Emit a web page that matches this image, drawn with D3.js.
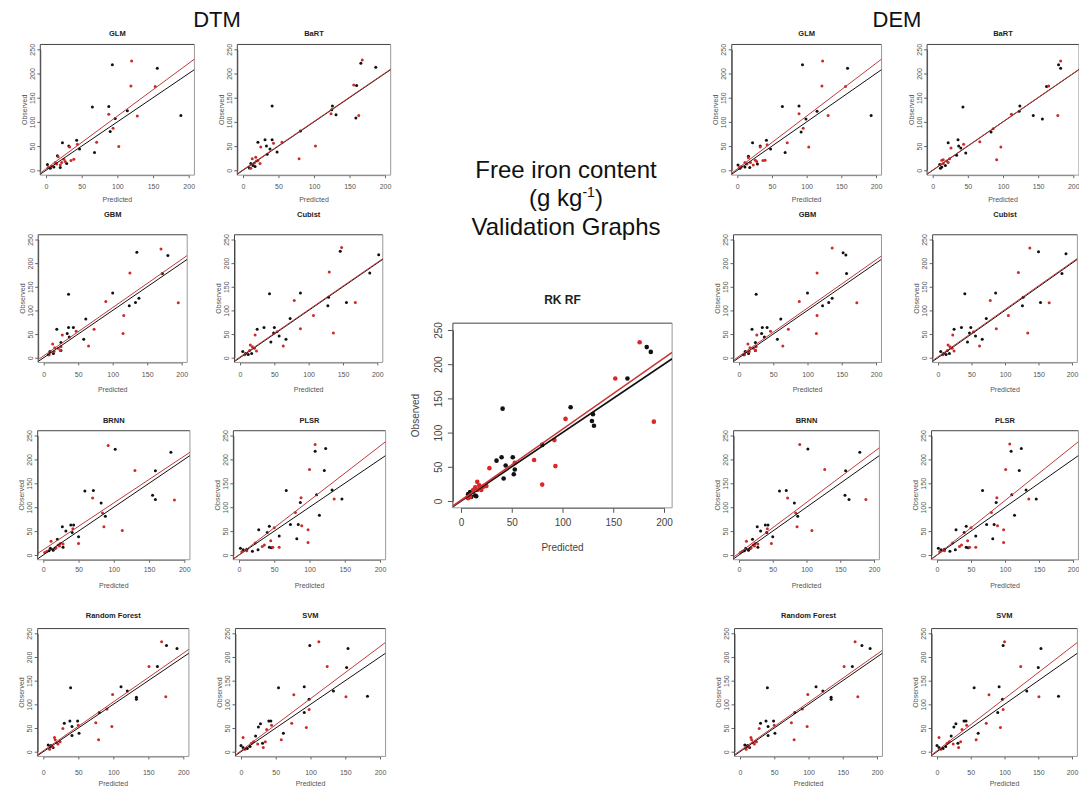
<!DOCTYPE html>
<html>
<head>
<meta charset="utf-8">
<script src="https://cdn.jsdelivr.net/npm/d3@7"></script>
<style>
  body { margin: 0; background: #fff; }
  svg { display: block; font-family: "Liberation Sans", Arial, sans-serif; }
</style>
</head>
<body>
<div id="chart"></div>
<script>
// axis ticks shared by every panel
const xTicks = [0, 50, 100, 150, 200];
const yTicks = [0, 50, 100, 150, 200, 250];
const oneToOne = [0, 1]; // black line: intercept, slope

// ---- RK RF (centre) ----
const rkrfBlack = [[183,225],[187,218],[164,179],[108,137],[130,127],[129,117],[131,110],[80,82],[41,135],[40,64],[51,64],[35,59],[44,52],[53,46],[52,39],[42,33],[9,13],[12,14],[14,8],[10,6],[7,10],[15,7]];
const rkrfRed = [[176,232],[152,179],[103,120],[190,116],[92,89],[93,51],[72,60],[80,24],[53,56],[28,48],[25,22],[16,28],[18,23],[19,20],[20,16],[16,16],[14,20],[7,4],[9,6],[22,21],[12,16]];
const rkrfFit = [1, 1.04];

// ---- DTM ----
const dtmGlmBlack = [[93,218],[156,211],[189,113],[65,131],[88,132],[114,123],[97,107],[90,80],[23,57],[43,62],[32,50],[47,44],[68,37],[16,30],[29,14],[20,6],[2,12],[11,7],[6,4]];
const dtmGlmRed = [[120,226],[119,174],[153,173],[88,116],[128,112],[94,87],[102,49],[71,58],[44,54],[33,48],[39,23],[35,20],[17,28],[25,23],[22,16],[15,13],[8,8],[3,6],[20,11],[27,18],[13,16]];
const dtmGlmFit = [3, 1.09];

const dtmBartBlack = [[166,221],[187,213],[160,175],[41,133],[126,133],[125,125],[131,115],[159,108],[81,81],[21,58],[31,63],[41,63],[33,50],[38,44],[48,38],[34,33],[11,14],[14,10],[9,5],[17,8]];
const dtmBartRed = [[168,228],[156,176],[163,113],[124,117],[102,50],[79,24],[25,48],[55,58],[43,56],[13,24],[18,27],[19,19],[16,15],[21,20],[11,4],[24,14]];
const dtmBartFit = [1, 1.0];

const dtmGbmBlack = [[180,216],[135,223],[172,178],[36,134],[100,137],[124,110],[133,117],[138,126],[61,82],[19,60],[36,64],[43,64],[34,51],[37,44],[58,39],[25,32],[9,13],[14,9],[7,6],[25,15]];
const dtmGbmRed = [[170,230],[125,179],[195,116],[90,119],[116,89],[115,51],[73,60],[47,56],[27,48],[65,25],[13,29],[16,21],[21,20],[25,23],[24,15],[8,6],[15,13]];
const dtmGbmFit = [4, 1.02];

const dtmCubistBlack = [[146,225],[202,218],[189,179],[43,135],[88,137],[129,128],[128,110],[155,117],[73,83],[25,60],[35,64],[50,64],[49,52],[57,46],[67,39],[45,33],[4,13],[8,9],[12,7],[17,9]];
const dtmCubistRed = [[148,233],[130,181],[168,117],[79,121],[107,89],[88,61],[136,52],[54,55],[22,48],[63,25],[15,27],[18,23],[21,20],[24,14],[7,6],[14,15]];
const dtmCubistFit = [1.5, 1.0];

const dtmBrnnBlack = [[102,221],[181,215],[159,176],[59,134],[71,135],[82,109],[88,81],[155,125],[159,116],[27,59],[39,63],[43,63],[32,50],[41,47],[50,38],[20,33],[28,16],[10,14],[14,10],[8,9],[17,14]];
const dtmBrnnRed = [[92,229],[130,177],[186,115],[70,119],[84,88],[86,59],[112,51],[42,55],[11,29],[50,24],[28,23],[21,21],[24,24],[18,15],[5,8],[2,5],[23,19]];
const dtmBrnnFit = [11, 0.98];

const dtmPlsrBlack = [[108,217],[123,223],[121,177],[67,135],[110,126],[132,136],[146,117],[87,110],[114,83],[28,53],[43,60],[40,47],[73,64],[84,64],[57,40],[82,34],[43,16],[46,15],[2,14],[6,11],[11,12],[27,11],[19,8]];
const dtmPlsrRed = [[108,231],[100,179],[135,117],[88,120],[80,89],[89,61],[98,53],[98,26],[57,16],[48,16],[50,57],[45,30],[36,21],[33,18],[23,25],[11,9],[4,7]];
const dtmPlsrFit = [0, 1.14];

const dtmRfBlack = [[176,224],[191,218],[163,180],[39,135],[111,137],[120,128],[133,115],[133,111],[80,83],[30,60],[38,65],[49,65],[41,53],[51,39],[41,34],[7,14],[11,13],[14,9],[10,11]];
const dtmRfRed = [[169,232],[151,180],[175,116],[99,121],[91,90],[98,53],[75,61],[79,25],[28,49],[50,56],[16,30],[17,25],[19,19],[24,21],[21,16],[9,5],[13,11]];
const dtmRfFit = [2, 1.03];

const dtmSvmBlack = [[99,224],[154,218],[152,178],[54,135],[91,137],[133,128],[182,117],[98,111],[91,83],[25,52],[28,59],[40,65],[43,65],[61,39],[31,18],[21,33],[0,13],[13,11],[9,7],[3,9]];
const dtmSvmRed = [[112,232],[124,180],[151,116],[76,120],[98,89],[94,51],[73,60],[58,25],[37,47],[3,30],[15,18],[18,21],[24,16],[35,21],[32,9],[6,5],[44,56]];
const dtmSvmFit = [2, 1.1];

// ---- DEM ----
const demGlmBlack = [[94,218],[159,211],[193,113],[65,132],[89,133],[115,122],[99,106],[92,79],[22,57],[42,62],[33,50],[48,44],[69,37],[16,29],[29,13],[18,6],[1,11],[11,7],[4,4]];
const demGlmRed = [[123,226],[122,174],[156,173],[89,117],[131,113],[95,87],[103,48],[72,57],[43,53],[33,48],[40,21],[37,20],[16,26],[26,21],[19,16],[14,13],[6,8],[3,6],[23,11],[28,18],[11,16]];
const demGlmFit = [3, 1.09];

const demBartBlack = [[179,218],[182,211],[162,173],[43,131],[124,133],[123,122],[143,113],[156,106],[83,79],[22,57],[36,63],[37,50],[40,46],[47,36],[34,31],[10,12],[13,7],[18,10],[11,4]];
const demBartRed = [[182,226],[165,174],[178,113],[112,116],[97,48],[91,22],[86,86],[26,46],[44,54],[67,59],[15,22],[20,19],[15,14],[22,16],[13,21],[24,24]];
const demBartFit = [0.5, 1.0];

const demGbmBlack = [[152,222],[156,217],[157,178],[25,134],[100,137],[122,110],[131,117],[136,126],[61,82],[19,60],[34,64],[41,64],[33,51],[37,44],[56,39],[24,32],[9,13],[14,9],[7,6],[24,15]];
const demGbmRed = [[136,232],[114,179],[172,116],[88,119],[114,89],[113,51],[72,60],[46,56],[26,48],[64,25],[13,29],[16,21],[21,20],[25,23],[24,15],[8,6],[15,13]];
const demGbmFit = [3, 1.02];

const demCubistBlack = [[150,224],[191,220],[185,178],[40,135],[86,137],[127,128],[126,110],[153,117],[72,83],[24,60],[35,64],[49,64],[47,52],[56,46],[66,39],[44,33],[4,13],[8,9],[12,7],[17,9]];
const demCubistRed = [[137,232],[120,180],[166,116],[78,121],[105,89],[87,61],[134,52],[53,55],[22,48],[62,25],[15,27],[18,23],[21,20],[24,14],[7,6],[14,15]];
const demCubistFit = [2, 1.0];

const demBrnnBlack = [[102,222],[179,215],[158,176],[60,134],[70,135],[82,109],[87,81],[157,125],[163,116],[27,59],[39,63],[43,63],[32,50],[41,47],[50,38],[20,33],[28,16],[10,14],[14,10],[8,9],[17,14]];
const demBrnnRed = [[90,231],[127,179],[188,116],[72,119],[84,88],[86,59],[108,51],[42,55],[11,29],[48,24],[28,23],[21,21],[24,24],[18,15],[5,8],[2,5],[23,19]];
const demBrnnFit = [4, 1.06];

const demPlsrBlack = [[109,217],[124,223],[121,177],[67,135],[110,126],[131,136],[146,117],[87,110],[114,83],[28,53],[43,60],[40,47],[73,64],[84,64],[57,40],[82,34],[43,16],[46,15],[2,14],[6,11],[11,12],[27,11],[19,8]];
const demPlsrRed = [[107,232],[101,179],[135,117],[88,120],[80,89],[89,61],[98,53],[98,26],[57,16],[48,16],[50,57],[45,30],[36,21],[33,18],[23,25],[11,9],[4,7]];
const demPlsrFit = [0, 1.14];

const demRfBlack = [[178,224],[190,218],[164,180],[40,135],[111,137],[121,128],[133,115],[133,111],[80,83],[30,60],[38,65],[49,65],[41,53],[51,39],[41,34],[7,14],[11,13],[14,9],[10,11]];
const demRfRed = [[168,232],[152,180],[172,116],[99,121],[91,90],[98,53],[75,61],[79,25],[28,49],[50,56],[16,30],[17,25],[19,19],[24,21],[21,16],[9,5],[13,11]];
const demRfFit = [2, 1.02];

const demSvmBlack = [[98,224],[154,218],[150,178],[55,135],[92,137],[133,128],[180,117],[97,111],[90,83],[25,52],[28,59],[40,65],[43,65],[61,39],[31,18],[21,33],[0,13],[13,11],[9,7],[3,9]];
const demSvmRed = [[100,232],[124,180],[151,116],[77,120],[98,89],[94,51],[73,60],[58,25],[37,47],[3,30],[15,18],[18,21],[24,16],[35,21],[32,9],[6,5],[44,56]];
const demSvmFit = [2, 1.1];

// ---- layout ----
const rows = [
  { title: 33,  ticks: 187, label: 199, y0: 170.3, y250: 49.3 },
  { title: 214, ticks: 375, label: 389, y0: 357.7, y250: 239.5 },
  { title: 420, ticks: 570, label: 585, y0: 555,   y250: 435.5 },
  { title: 615, ticks: 773, label: 783, y0: 751.7, y250: 633.3 }
];

const panels = [
  { title: "GLM",    row: 0, x0: 46,    x200: 188.7,  black: dtmGlmBlack,    red: dtmGlmRed,    fit: dtmGlmFit },
  { title: "BaRT",   row: 0, x0: 243,   x200: 385,    black: dtmBartBlack,   red: dtmBartRed,   fit: dtmBartFit },
  { title: "GBM",    row: 1, x0: 43.7,  x200: 181.7,  black: dtmGbmBlack,    red: dtmGbmRed,    fit: dtmGbmFit },
  { title: "Cubist", row: 1, x0: 240,   x200: 377.3,  black: dtmCubistBlack, red: dtmCubistRed, fit: dtmCubistFit },
  { title: "BRNN",   row: 2, x0: 43.3,  x200: 184.3,  black: dtmBrnnBlack,   red: dtmBrnnRed,   fit: dtmBrnnFit },
  { title: "PLSR",   row: 2, x0: 239,   x200: 380,    black: dtmPlsrBlack,   red: dtmPlsrRed,   fit: dtmPlsrFit },
  { title: "Random Forest", row: 3, x0: 43.3, x200: 183.3, black: dtmRfBlack, red: dtmRfRed,   fit: dtmRfFit },
  { title: "SVM",    row: 3, x0: 241,   x200: 380,    black: dtmSvmBlack,    red: dtmSvmRed,    fit: dtmSvmFit },

  { title: "GLM",    row: 0, x0: 737.3, x200: 876,    black: demGlmBlack,    red: demGlmRed,    fit: demGlmFit },
  { title: "BaRT",   row: 0, x0: 932.7, x200: 1073.3, black: demBartBlack,   red: demBartRed,   fit: demBartFit },
  { title: "GBM",    row: 1, x0: 739,   x200: 876,    black: demGbmBlack,    red: demGbmRed,    fit: demGbmFit },
  { title: "Cubist", row: 1, x0: 938,   x200: 1072,   black: demCubistBlack, red: demCubistRed, fit: demCubistFit },
  { title: "BRNN",   row: 2, x0: 739,   x200: 874,    black: demBrnnBlack,   red: demBrnnRed,   fit: demBrnnFit },
  { title: "PLSR",   row: 2, x0: 937,   x200: 1073,   black: demPlsrBlack,   red: demPlsrRed,   fit: demPlsrFit },
  { title: "Random Forest", row: 3, x0: 740, x200: 877, black: demRfBlack,  red: demRfRed,     fit: demRfFit },
  { title: "SVM",    row: 3, x0: 937,   x200: 1072,   black: demSvmBlack,    red: demSvmRed,    fit: demSvmFit }
];

const width = 1079, height = 794;

const svg = d3.select("#chart").append("svg")
  .attr("width", width)
  .attr("height", height);
const defs = svg.append("defs");

function drawPanel(p, i, st) {
  var x = d3.scaleLinear().domain([0, 200]).range([p.x0, p.x200]);
  var y = d3.scaleLinear().domain([0, 250]).range([p.y0, p.y250]);
  var left = x(-8), right = x(208), top = y(260), bottom = y(-10);

  var g = svg.append("g").attr("class", "panel");

  defs.append("clipPath").attr("id", "clip" + i)
    .append("rect")
    .attr("x", left).attr("y", top)
    .attr("width", right - left).attr("height", bottom - top);

  // x axis
  var ax = g.append("g")
    .attr("transform", "translate(0," + bottom + ")")
    .call(d3.axisBottom(x).tickValues(xTicks).tickSize(st.tick).tickSizeOuter(0));
  ax.selectAll("text")
    .attr("y", p.tickY - bottom).attr("dy", "0.35em")
    .attr("font-size", st.tickFont).attr("fill", st.textColor);

  // y axis, labels turned like R's las = 0
  var ay = g.append("g")
    .attr("transform", "translate(" + left + ",0)")
    .call(d3.axisLeft(y).tickValues(yTicks).tickSize(st.tick).tickSizeOuter(0));
  ay.selectAll("text")
    .attr("x", null).attr("dy", null)
    .attr("transform", "translate(" + (-st.yLabOff) + ",0) rotate(-90)")
    .attr("text-anchor", "middle")
    .attr("dominant-baseline", "central")
    .attr("font-size", st.tickFont).attr("fill", st.textColor);

  g.selectAll(".domain, .tick line").attr("stroke", st.axisColor);
  g.selectAll(".tick text").attr("font-family", null);

  // plot frame
  g.append("line").attr("x1", left).attr("x2", right).attr("y1", top).attr("y2", top).attr("stroke", "#444");
  g.append("line").attr("x1", left).attr("x2", left).attr("y1", top).attr("y2", bottom).attr("stroke", "#444");
  g.append("line").attr("x1", right).attr("x2", right).attr("y1", top).attr("y2", bottom).attr("stroke", "#999");
  g.append("line").attr("x1", left).attr("x2", right).attr("y1", bottom).attr("y2", bottom).attr("stroke", "#999");

  // points
  var pts = g.append("g").attr("clip-path", "url(#clip" + i + ")");
  pts.selectAll(".blk").data(p.black).enter().append("circle")
    .attr("class", "blk")
    .attr("cx", d => x(d[0])).attr("cy", d => y(d[1]))
    .attr("r", st.r).attr("fill", "#111");
  pts.selectAll(".rd").data(p.red).enter().append("circle")
    .attr("class", "rd")
    .attr("cx", d => x(d[0])).attr("cy", d => y(d[1]))
    .attr("r", st.r).attr("fill", st.redPt);

  // fitted lines
  var xs = [-8, 208];
  [[oneToOne, "#111"], [p.fit, st.redLine]].forEach(function (f) {
    pts.append("line")
      .attr("x1", x(xs[0])).attr("y1", y(f[0][0] + f[0][1] * xs[0]))
      .attr("x2", x(xs[1])).attr("y2", y(f[0][0] + f[0][1] * xs[1]))
      .attr("stroke", f[1]).attr("stroke-width", st.lw);
  });

  // labels
  g.append("text")
    .attr("x", (left + right) / 2).attr("y", p.titleY)
    .attr("text-anchor", "middle").attr("dominant-baseline", "central")
    .attr("font-weight", "bold").attr("font-size", st.titleFont).attr("fill", "#222")
    .text(p.title);
  g.append("text")
    .attr("x", (left + right) / 2).attr("y", p.labelY)
    .attr("text-anchor", "middle").attr("dominant-baseline", "central")
    .attr("font-size", st.labFont).attr("fill", st.textColor)
    .text("Predicted");
  g.append("text")
    .attr("transform", "translate(" + (left - st.obsOff) + "," + ((top + bottom) / 2) + ") rotate(-90)")
    .attr("text-anchor", "middle").attr("dominant-baseline", "central")
    .attr("font-size", st.labFont).attr("fill", st.textColor)
    .text("Observed");
}

const smallStyle = {
  tick: 3, tickFont: 7, labFont: 7, titleFont: 7.5, yLabOff: 8, obsOff: 16,
  r: 1.5, lw: 1, redPt: "#cc2b2b", redLine: "#bf3a3a", textColor: "#555", axisColor: "#666"
};
const bigStyle = {
  tick: 5, tickFont: 10, labFont: 10, titleFont: 12, yLabOff: 14, obsOff: 37,
  r: 2.3, lw: 1.6, redPt: "#dd2626", redLine: "#c93535", textColor: "#444", axisColor: "#555"
};

panels.forEach(function (p, i) {
  var r = rows[p.row];
  drawPanel(Object.assign({}, p, { y0: r.y0, y250: r.y250, titleY: r.title, tickY: r.ticks, labelY: r.label }), i, smallStyle);
});

drawPanel({
  title: "RK RF", x0: 461, x200: 664, y0: 501, y250: 330,
  titleY: 300, tickY: 523, labelY: 547,
  black: rkrfBlack, red: rkrfRed, fit: rkrfFit
}, 99, bigStyle);

// headings
svg.append("text").attr("x", 217).attr("y", 27).attr("text-anchor", "middle")
  .attr("font-size", 22).attr("fill", "#111").text("DTM");
svg.append("text").attr("x", 897).attr("y", 27).attr("text-anchor", "middle")
  .attr("font-size", 22).attr("fill", "#111").text("DEM");

var head = svg.append("g").attr("font-size", 24).attr("fill", "#111").attr("text-anchor", "middle");
head.append("text").attr("x", 566).attr("y", 178).text("Free iron content");
var unit = head.append("text").attr("x", 566).attr("y", 206);
unit.append("tspan").text("(g kg");
unit.append("tspan").attr("font-size", 14).attr("dy", -9).text("-1");
unit.append("tspan").attr("dy", 9).text(")");
head.append("text").attr("x", 566).attr("y", 235).text("Validation Graphs");
</script>
</body>
</html>
